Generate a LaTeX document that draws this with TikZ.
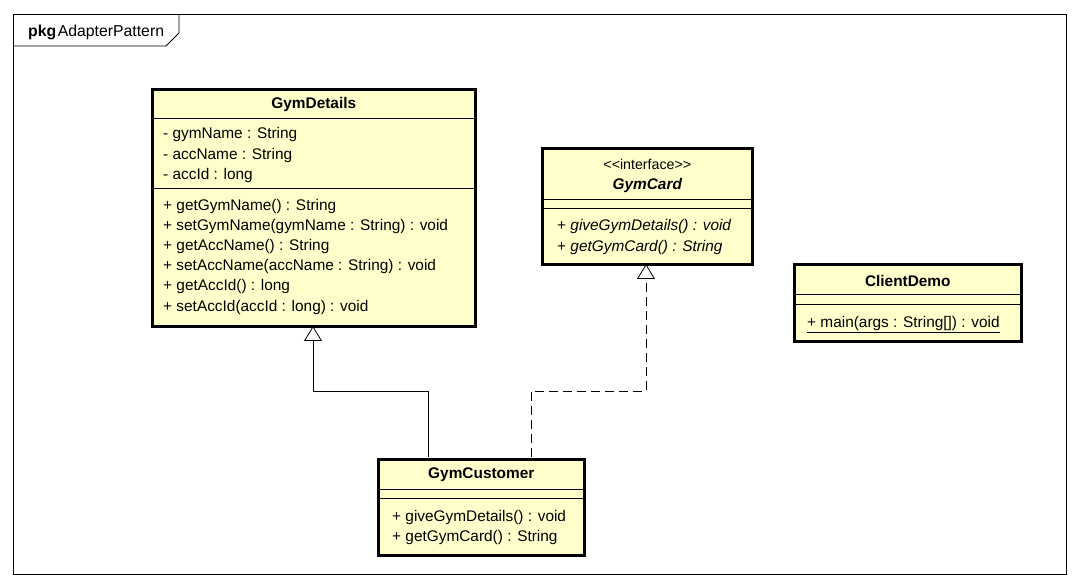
\documentclass[tikz,border=0pt]{standalone}
\usepackage{fontspec}
\setmainfont{Liberation Sans}
\usepackage{tikz}
\usetikzlibrary{arrows.meta,positioning}

\definecolor{classfill}{HTML}{FFFFCC}
\tikzset{
  classbox/.style={draw, line width=2.6pt, fill=classfill, inner sep=0pt, anchor=north west},
  member/.style={anchor=west, inner sep=0pt, text height=11pt, text depth=2pt, font=\fontsize{15.4}{15}\selectfont},
  classname/.style={inner sep=0pt, text height=11pt, text depth=2pt, font=\fontsize{15.4}{15}\selectfont\bfseries},
  sep/.style={line width=0.8pt},
  inherit/.style={-{Triangle[open,length=15pt,width=18pt]}, line width=0.8pt},
  realize/.style={inherit, dash pattern=on 9pt off 5pt}
}

\begin{document}
\begin{tikzpicture}[x=1pt, y=-1pt]
  \useasboundingbox (0,0) rectangle (1080,588);
  % package frame
  \draw[line width=0.8pt] (13,14) rectangle (1066,574);
  \draw[line width=0.8pt] (13,46) -- (166,46) -- (179,33) -- (179,14);
  \node[anchor=base west, inner sep=0pt, font=\fontsize{15.8}{15}\selectfont] (pkg) at (28,37) {\textbf{pkg}\kern1.5pt AdapterPattern};

  % GymDetails
  \node[classbox, minimum width=323pt, minimum height=237pt] (gd) at (151,88) {};
  \node[classname] (gd-name) at (gd.north |- 0,104) {GymDetails};
  \draw[sep] (gd.west |- 0,118) -- (gd.east |- 0,118);
  \draw[sep] (gd.west |- 0,188) -- (gd.east |- 0,188);
  \foreach \t [count=\i] in {- gymName : String, - accName : String, - accId : long}
    \node[member] (gd-at\i) at (163,{114+20.4*\i}) {\t};
  \foreach \t [count=\i] in {+ getGymName() : String, + setGymName(gymName : String) : void,
      + getAccName() : String, + setAccName(accName : String) : void,
      + getAccId() : long, + setAccId(accId : long) : void}
    \node[member] (gd-op\i) at (163,{186+20.1*\i}) {\t};

  % GymCard
  \node[classbox, minimum width=210pt, minimum height=116pt] (gcard) at (541,147) {};
  \node[member, anchor=center, font=\fontsize{14.2}{14}\selectfont] (gcard-st) at (gcard.north |- 0,165) {<\kern0pt<interface>\kern0pt>};
  \node[classname, font=\fontsize{15.4}{15}\selectfont\bfseries\itshape] (gcard-name) at (gcard.north |- 0,185) {GymCard};
  \draw[sep] (gcard.west |- 0,199) -- (gcard.east |- 0,199);
  \draw[sep] (gcard.west |- 0,208) -- (gcard.east |- 0,208);
  \node[member] (gcard-op1) at (557,226) {+ \textit{giveGymDetails() : void}};
  \node[member] (gcard-op2) at (557,247) {+ \textit{getGymCard() : String}};

  % ClientDemo
  \node[classbox, minimum width=227pt, minimum height=77pt] (cd) at (793,263) {};
  \node[classname] (cd-name) at (cd.north |- 0,282) {ClientDemo};
  \draw[sep] (cd.west |- 0,294) -- (cd.east |- 0,294);
  \draw[sep] (cd.west |- 0,304) -- (cd.east |- 0,304);
  \node[member] (cd-op1) at (807,323) {\underline{+ main(args : String[]) : void}};

  % GymCustomer
  \node[classbox, minimum width=206pt, minimum height=96pt] (gcu) at (377,458) {};
  \node[classname] (gcu-name) at (gcu.north |- 0,474) {GymCustomer};
  \draw[sep] (gcu.west |- 0,489) -- (gcu.east |- 0,489);
  \draw[sep] (gcu.west |- 0,498) -- (gcu.east |- 0,498);
  \node[member] (gcu-op1) at (392,517) {+ giveGymDetails() : void};
  \node[member] (gcu-op2) at (392,537) {+ getGymCard() : String};

  \coordinate (gcu-l) at (428,457);
  \coordinate (gcu-r) at (531,457);
  \coordinate (gd-b) at (313,326);
  \coordinate (gcard-b) at (646,264);
  \draw[inherit] (gcu-l) -- ++(0,-66) -| (gd-b);
  \draw[realize] (gcu-r) -- ++(0,-66) -| (gcard-b);
\end{tikzpicture}
\end{document}
